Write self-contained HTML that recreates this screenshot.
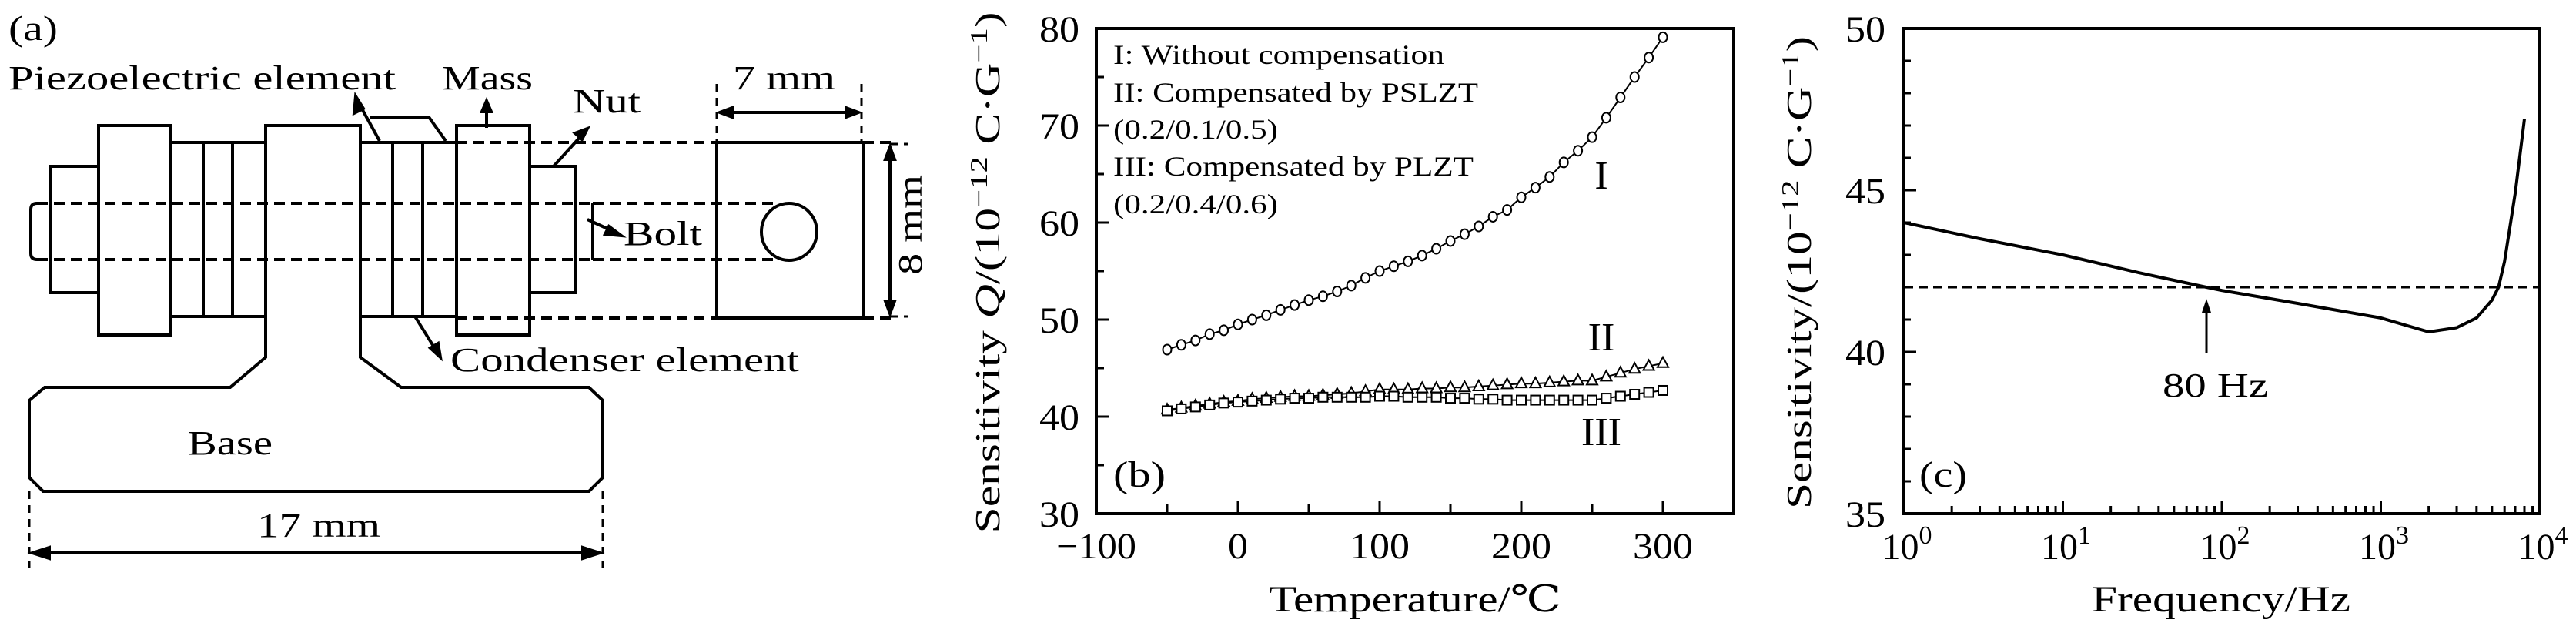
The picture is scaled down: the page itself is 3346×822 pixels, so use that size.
<!DOCTYPE html>
<html><head><meta charset="utf-8">
<style>
html,body{margin:0;padding:0;background:#fff;}
svg, svg text, svg tspan{font-family:"Liberation Serif","DejaVu Serif",serif;}
text{fill:#000;}
</style></head>
<body>
<svg id="fig" width="3346" height="817" viewBox="0 0 3346 817" xmlns="http://www.w3.org/2000/svg" font-family="Liberation Serif, DejaVu Serif, serif">
<!-- Panel (a) diagram -->
<g id="panelA" stroke="#000" stroke-width="4" fill="none">
  <g stroke="none" fill="#000" font-size="44">
  <text x="11" y="52" font-size="46" textLength="64" lengthAdjust="spacingAndGlyphs">(a)</text>
  <text x="11" y="116" textLength="503" lengthAdjust="spacingAndGlyphs">Piezoelectric element</text>
  <text x="574" y="116" textLength="118" lengthAdjust="spacingAndGlyphs">Mass</text>
  <text x="952" y="116" textLength="133" lengthAdjust="spacingAndGlyphs">7 mm</text>
  <text x="744" y="146" textLength="88" lengthAdjust="spacingAndGlyphs">Nut</text>
  <text x="810" y="318" textLength="102" lengthAdjust="spacingAndGlyphs">Bolt</text>
  <text x="585" y="482" textLength="453" lengthAdjust="spacingAndGlyphs">Condenser element</text>
  <text x="244" y="590" textLength="110" lengthAdjust="spacingAndGlyphs">Base</text>
  <text x="334" y="697" textLength="160" lengthAdjust="spacingAndGlyphs">17 mm</text>
  <text transform="translate(1197,292) rotate(-90)" text-anchor="middle" textLength="130" lengthAdjust="spacingAndGlyphs">8 mm</text>
  </g>

  <rect x="66" y="216" width="62" height="164"/>
  <rect x="128" y="163" width="94" height="272"/>
  <rect x="222" y="185" width="123" height="226"/>
  <line x1="264" y1="185" x2="264" y2="411"/><line x1="302" y1="185" x2="302" y2="411"/>
  <path d="M345 411 V163 H468 V411"/>
  <rect x="468" y="185" width="125" height="226"/>
  <line x1="510" y1="185" x2="510" y2="411"/><line x1="549" y1="185" x2="549" y2="411"/>
  <rect x="593" y="163" width="95" height="272"/>
  <rect x="688" y="216" width="60" height="164"/>
  <path d="M345 411 V464 L299 503 H58 L38 520 V620 L56 638 H765 L783 620 V520 L765 503 H521 L468 464 V411"/>
  <g stroke-dasharray="14 8">
    <line x1="48" y1="264" x2="770" y2="264"/><line x1="48" y1="337" x2="770" y2="337"/>
    <line x1="770" y1="264" x2="1010" y2="264"/><line x1="770" y1="337" x2="1010" y2="337"/>
    <line x1="593" y1="185" x2="1160" y2="185"/><line x1="593" y1="413" x2="1160" y2="413"/>
  </g>
  <path d="M48 264 Q40 264 40 272 V329 Q40 337 48 337" />
  <line x1="770" y1="264" x2="770" y2="337"/>
  <rect x="931" y="185" width="191" height="228"/>
  <ellipse cx="1025" cy="301" rx="36" ry="37"/>
  <g stroke-dasharray="10 8" stroke-width="3">
    <line x1="931" y1="109" x2="931" y2="185"/><line x1="1119" y1="109" x2="1119" y2="185"/>
    <line x1="38" y1="638" x2="38" y2="740"/><line x1="783" y1="638" x2="783" y2="740"/>
    <line x1="1156" y1="187" x2="1180" y2="187"/><line x1="1156" y1="411" x2="1180" y2="411"/>
  </g>
  <g>
    <line x1="935" y1="146" x2="1115" y2="146"/>
    <path d="M935 146 l16 -6 v12z M1115 146 l-16 -6 v12z" fill="#000"/>
    <line x1="42" y1="718" x2="779" y2="718"/>
    <path d="M42 718 l22 -7 v14z M779 718 l-22 -7 v14z" fill="#000"/>
    <line x1="1156" y1="191" x2="1156" y2="407"/>
    <path d="M1156 191 l-6 16 h12z M1156 407 l-6 -16 h12z" fill="#000"/>
  </g>
  <g>
    <line x1="493" y1="183" x2="465" y2="132"/><path d="M462 125 l-2 22 l12 -6z" fill="#000"/>
    <path d="M480 152 H557 L579 183"/>
    <line x1="632" y1="166" x2="632" y2="140"/><path d="M632 131 l-6 14 h12z" fill="#000"/>
    <line x1="719" y1="216" x2="758" y2="173"/><path d="M763 167 l-16 6 l9 8z" fill="#000"/>
    <line x1="763" y1="285" x2="800" y2="302"/><path d="M807 306 l-16 -12 l-5 10z" fill="#000"/>
    <line x1="539" y1="411" x2="567" y2="456"/><path d="M572 464 l-3 -18 l-10 6z" fill="#000"/>
  </g>
</g>

<!-- Panel (b) -->
<g id="panelB"></g>
<!-- Panel (c) -->
<g id="panelC"></g>
</svg>

<script>
// ---- Panel (b) data ----
const tempsB = [-50,-40,-30,-20,-10,0,10,20,30,40,50,60,70,80,90,100,110,120,130,140,150,160,170,180,190,200,210,220,230,240,250,260,270,280,290,300];
const seriesI = [46.9,47.4,47.85,48.5,48.9,49.5,50.0,50.45,51.0,51.5,52.0,52.4,52.9,53.5,54.3,55.0,55.5,56.0,56.6,57.3,58.1,58.8,59.6,60.6,61.3,62.6,63.6,64.7,66.2,67.4,68.8,70.8,72.9,75.0,77.0,79.1];
const seriesII = [40.7,40.9,41.1,41.3,41.5,41.6,41.8,41.9,42.0,42.1,42.1,42.2,42.3,42.4,42.6,42.8,42.8,42.8,42.9,42.9,43.0,43.0,43.1,43.2,43.3,43.4,43.4,43.5,43.6,43.7,43.7,44.1,44.5,44.9,45.2,45.5];
const seriesIII = [40.6,40.8,41.0,41.2,41.4,41.5,41.6,41.7,41.8,41.9,41.9,42.0,42.0,42.0,42.0,42.1,42.1,42.0,42.0,42.0,41.9,41.9,41.8,41.8,41.7,41.7,41.7,41.7,41.7,41.7,41.7,41.9,42.1,42.3,42.5,42.7];
const xTicksB = [-100,0,100,200,300];
const yTicksB = [30,40,50,60,70,80];
// ---- Panel (c) data ----
const freqC = [1,3,10,30,80,100,300,1000,2000,3000,4000,5000,5500,6000,7000,8000];
const sensC = [44.0,43.5,43.0,42.45,42.0,41.9,41.5,41.05,40.62,40.75,41.05,41.6,42.0,42.8,44.9,47.2];
const refLevelC = [42.0];
const xTickExpC = [0,1,2,3,4];
const yTicksC = [35,40,45,50];

const NS = "http://www.w3.org/2000/svg";
function mk(parent, tag, attrs, txt){
  const e = document.createElementNS(NS, tag);
  for (const k in attrs) e.setAttribute(k, attrs[k]);
  if (txt !== undefined) e.textContent = txt;
  parent.appendChild(e);
  return e;
}

// Panel B
(function(){
  const g = document.getElementById('panelB');
  const L=1424,R=2252,T=37,B=667;
  const xs = v => L + (v+100)/450*(R-L);
  const ys = v => B - (v-30)/50*(B-T);
  let e;
  e = mk(g,'rect',{x:L,y:T,width:R-L,height:B-T,fill:'none',stroke:'#000','stroke-width':4});
  
  
  for (let v=30; v<=80; v+=5){
    const len = (v%10===0)?16:10;
    mk(g,'line',{x1:L,y1:ys(v),x2:L+len,y2:ys(v),stroke:'#000','stroke-width':3});
  }
  for (let v=-50; v<=300; v+=50){
    const len = (v%100===0)?16:12;
    mk(g,'line',{x1:xs(v),y1:B,x2:xs(v),y2:B-len,stroke:'#000','stroke-width':3});
  }
  yTicksB.forEach(v=>{
    e = mk(g,'text',{x:1402,y:ys(v)+17,'text-anchor':'end','font-size':48,textLength:52,lengthAdjust:'spacingAndGlyphs'},String(v));
    
    
  });
  xTicksB.forEach(v=>{
    const s=(v<0?'\u2212':'')+Math.abs(v);
    e = mk(g,'text',{x:xs(v),y:725,'text-anchor':'middle','font-size':48,textLength:s.length*26,lengthAdjust:'spacingAndGlyphs'},s);
    
    
  });
  e = mk(g,'text',{x:1838,y:794,'text-anchor':'middle','font-size':48,textLength:380,lengthAdjust:'spacingAndGlyphs'},'Temperature/\u2103');
  
  
  e = mk(g,'text',{transform:'translate(1298,354) rotate(-90)','text-anchor':'middle','font-size':46,textLength:677,lengthAdjust:'spacingAndGlyphs'});
  
  
  e.innerHTML = 'Sensitivity <tspan font-style="italic">Q</tspan>/(10<tspan dy="-16" font-size="32">\u221212</tspan><tspan dy="16"> C\u00b7G</tspan><tspan dy="-16" font-size="32">\u22121</tspan><tspan dy="16">)</tspan>';
  const leg = ['I: Without compensation','II: Compensated by PSLZT','(0.2/0.1/0.5)','III: Compensated by PLZT','(0.2/0.4/0.6)'];
  const legW = [430,474,214,468,214];
  const legY = [83,132,180,228,277];
  leg.forEach((s,i)=>{
    e = mk(g,'text',{x:1446,y:legY[i],'font-size':36,textLength:legW[i],lengthAdjust:'spacingAndGlyphs'},s);
    
    
  });
  e = mk(g,'text',{x:1446,y:632,'font-size':48,textLength:68,lengthAdjust:'spacingAndGlyphs'},'(b)');
  
  
  [['I',245,'series-i-label'],['II',455,'series-ii-label'],['III',578,'series-iii-label']].forEach(a=>{
    e = mk(g,'text',{x:2080,y:a[1],'text-anchor':'middle','font-size':52},a[0]);
    
    
  });
  function line(vals,name){
    const d = tempsB.map((t,i)=>(i?'L':'M')+xs(t).toFixed(1)+' '+ys(vals[i]).toFixed(1)).join(' ');
    const p = mk(g,'path',{d:d,fill:'none',stroke:'#000','stroke-width':2});
    
    
  }
  line(seriesI,'series-i-line'); line(seriesII,'series-ii-line'); line(seriesIII,'series-iii-line');
  tempsB.forEach((t,i)=>{
    let m = mk(g,'ellipse',{cx:xs(t),cy:ys(seriesI[i]),rx:5.5,ry:6.5,fill:'#fff',stroke:'#000','stroke-width':2});
    
    
    const x=xs(t), y2=ys(seriesII[i]);
    m = mk(g,'path',{d:`M${x-7} ${y2+5} L${x} ${y2-8} L${x+7} ${y2+5}Z`,fill:'#fff',stroke:'#000','stroke-width':2});
    
    
    const y3=ys(seriesIII[i]);
    m = mk(g,'rect',{x:x-6,y:y3-6,width:12,height:12,fill:'#fff',stroke:'#000','stroke-width':2});
    
    
  });
})();

// Panel C
(function(){
  const g = document.getElementById('panelC');
  const L=2473,R=3299,T=37,B=667;
  const xs = f => L + Math.log10(f)/4*(R-L);
  const ys = v => B - (v-35)/15*(B-T);
  let e;
  e = mk(g,'rect',{x:L,y:T,width:R-L,height:B-T,fill:'none',stroke:'#000','stroke-width':4});
  
  
  for (let v=35; v<=50; v+=1){
    const len = (v%5===0)?16:9;
    mk(g,'line',{x1:L,y1:ys(v),x2:L+len,y2:ys(v),stroke:'#000','stroke-width':3});
  }
  for (let d=0; d<4; d++){
    for (let k=1;k<=10;k++){
      const f=Math.pow(10,d)*k;
      const len=(k===1||k===10)?17:10;
      mk(g,'line',{x1:xs(f),y1:B,x2:xs(f),y2:B-len,stroke:'#000','stroke-width':3});
    }
  }
  yTicksC.forEach(v=>{
    e = mk(g,'text',{x:2449,y:ys(v)+17,'text-anchor':'end','font-size':48,textLength:52,lengthAdjust:'spacingAndGlyphs'},String(v));
    
    
  });
  xTickExpC.forEach(p=>{
    e = mk(g,'text',{x:xs(Math.pow(10,p))+4,y:726,'text-anchor':'middle','font-size':48});
    
    
    e.innerHTML = '10<tspan dy="-20" font-size="34">'+p+'</tspan>';
  });
  e = mk(g,'text',{x:2885,y:794,'text-anchor':'middle','font-size':48,textLength:336,lengthAdjust:'spacingAndGlyphs'},'Frequency/Hz');
  
  
  e = mk(g,'text',{transform:'translate(2352,354) rotate(-90)','text-anchor':'middle','font-size':46,textLength:614,lengthAdjust:'spacingAndGlyphs'});
  
  
  e.innerHTML = 'Sensitivity/(10<tspan dy="-16" font-size="32">\u221212</tspan><tspan dy="16"> C\u00b7G</tspan><tspan dy="-16" font-size="32">\u22121</tspan><tspan dy="16">)</tspan>';
  e = mk(g,'text',{x:2493,y:632,'font-size':48,textLength:62,lengthAdjust:'spacingAndGlyphs'},'(c)');
  
  
  e = mk(g,'line',{x1:L,y1:ys(refLevelC[0]),x2:R,y2:ys(refLevelC[0]),stroke:'#000','stroke-width':3,'stroke-dasharray':'12 7'});
  
  
  const d = freqC.map((f,i)=>(i?'L':'M')+xs(f).toFixed(1)+' '+ys(sensC[i]).toFixed(1)).join(' ');
  e = mk(g,'path',{d:d,fill:'none',stroke:'#000','stroke-width':4,'stroke-linejoin':'round'});
  
  
  const ax = xs(80);
  e = mk(g,'line',{x1:ax,y1:458,x2:ax,y2:396,stroke:'#000','stroke-width':3});
  
  
  mk(g,'path',{d:`M${ax} 388 l-6 18 h12z`,fill:'#000'});
  e = mk(g,'text',{x:2809,y:515,'font-size':44,textLength:137,lengthAdjust:'spacingAndGlyphs'},'80 Hz');
  
  
})();
</script>
</body></html>
